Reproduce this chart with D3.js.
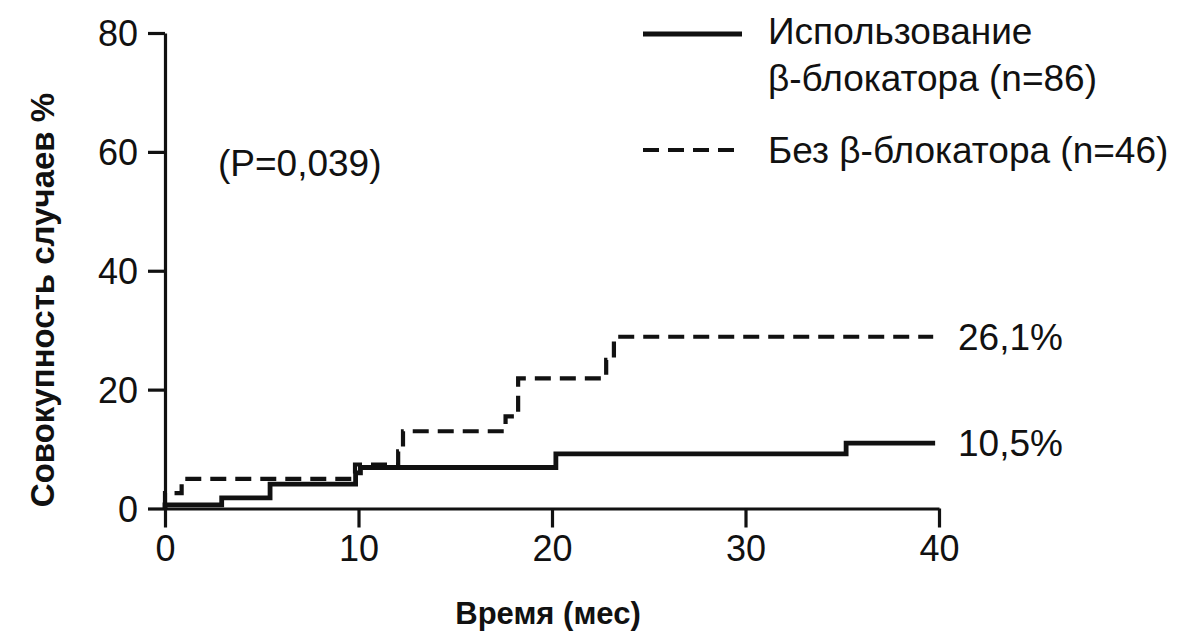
<!DOCTYPE html>
<html>
<head>
<meta charset="utf-8">
<script src="https://cdn.jsdelivr.net/npm/d3@7"></script>
<style>
  html, body { margin: 0; padding: 0; background: #fff; }
  #chart { width: 1181px; height: 633px; }
  text { font-family: 'Liberation Sans', Arial, sans-serif; fill: #111; }
</style>
</head>
<body>
<div id="chart"></div>
<script>
// months / cumulative %
const solidTimes = [0, 0, 2.93, 5.43, 9.85, 10.1, 20.2, 35.2, 39.8]
const solidValues = [0, 0.6, 1.8, 4.1, 6.0, 6.9, 9.2, 11.0, 11.0]
const dashedTimes = [0, 0, 0.86, 9.82, 12.05, 12.3, 17.6, 18.25, 22.8, 23.2, 39.7]
const dashedValues = [0, 2.6, 5.0, 7.4, 9.6, 13.0, 15.5, 21.9, 25.0, 28.9, 28.9]

const xTicks = [0, 10, 20, 30, 40]
const yTicks = [0, 20, 40, 60, 80]
const legendLabels = [['Использование', 'β-блокатора (n=86)'], ['Без β-блокатора (n=46)']]
const endLabels = ['10,5%', '26,1%']
const pLabel = '(P=0,039)'

const tickFont = 36
const labelFont = 37

const svg = d3.select('#chart')
  .append('svg')
  .attr('width', 1181)
  .attr('height', 633)

const x = d3.scaleLinear().domain([0, 40]).range([165, 939])
const y = d3.scaleLinear().domain([0, 80]).range([508.5, 33])

const styleAxis = (g) => {
  g.select('.domain').attr('stroke', '#111').attr('stroke-width', 3.2)
  g.selectAll('.tick line').attr('stroke', '#111').attr('stroke-width', 3.2)
  g.selectAll('.tick text')
    .attr('font-family', "'Liberation Sans', Arial, sans-serif")
    .attr('font-size', tickFont)
    .attr('fill', '#111')
}

svg.append('g')
  .attr('transform', `translate(0,${y(0)})`)
  .call(d3.axisBottom(x).tickValues(xTicks).tickSize(19).tickSizeOuter(0).tickPadding(8))
  .call(styleAxis)

svg.append('g')
  .attr('transform', `translate(${x(0)},0)`)
  .call(d3.axisLeft(y).tickValues(yTicks).tickSize(17).tickSizeOuter(0).tickPadding(10))
  .call(styleAxis)
  .selectAll('.tick text').attr('dy', '0.35em')

const line = d3.line()
  .x((d) => x(d[0]))
  .y((d) => y(d[1]))
  .curve(d3.curveStepAfter)

const solid = solidTimes.map((t, i) => [t, solidValues[i]])
const dashed = dashedTimes.map((t, i) => [t, dashedValues[i]])

svg.append('path')
  .datum(solid)
  .attr('d', line)
  .attr('fill', 'none')
  .attr('stroke', '#111')
  .attr('stroke-width', 4.8)

svg.append('path')
  .datum(dashed)
  .attr('d', line)
  .attr('fill', 'none')
  .attr('stroke', '#111')
  .attr('stroke-width', 4.2)
  .attr('stroke-dasharray', '16,9')

// end labels
svg.append('text')
  .attr('x', x(40) + 19)
  .attr('y', y(solidValues[solidValues.length - 1]))
  .attr('dy', '0.35em')
  .attr('font-size', labelFont)
  .text(endLabels[0])

svg.append('text')
  .attr('x', x(40) + 19)
  .attr('y', y(dashedValues[dashedValues.length - 1]))
  .attr('dy', '0.35em')
  .attr('font-size', labelFont)
  .text(endLabels[1])

svg.append('text')
  .attr('x', 218)
  .attr('y', 163)
  .attr('dy', '0.35em')
  .attr('font-size', labelFont)
  .text(pLabel)

// legend
const legend = svg.append('g')
legend.append('line')
  .attr('x1', 643).attr('x2', 742)
  .attr('y1', 34).attr('y2', 34)
  .attr('stroke', '#111').attr('stroke-width', 4.8)
legend.append('line')
  .attr('x1', 643).attr('x2', 742)
  .attr('y1', 150).attr('y2', 150)
  .attr('stroke', '#111').attr('stroke-width', 4.2)
  .attr('stroke-dasharray', '16,9')

legend.append('text')
  .attr('x', 768).attr('y', 31).attr('dy', '0.35em')
  .attr('font-size', labelFont)
  .text(legendLabels[0][0])
legend.append('text')
  .attr('x', 768).attr('y', 78).attr('dy', '0.35em')
  .attr('font-size', labelFont)
  .text(legendLabels[0][1])
legend.append('text')
  .attr('x', 768).attr('y', 150).attr('dy', '0.35em')
  .attr('font-size', labelFont)
  .text(legendLabels[1][0])

// axis titles
svg.append('text')
  .attr('x', 548)
  .attr('y', 613)
  .attr('dy', '0.35em')
  .attr('text-anchor', 'middle')
  .attr('font-size', 31)
  .attr('font-weight', 'bold')
  .text('Время (мес)')

svg.append('text')
  .attr('transform', 'translate(42,300) rotate(-90)')
  .attr('dy', '0.35em')
  .attr('text-anchor', 'middle')
  .attr('font-size', 33)
  .attr('font-weight', 'bold')
  .text('Совокупность случаев %')
</script>
</body>
</html>
